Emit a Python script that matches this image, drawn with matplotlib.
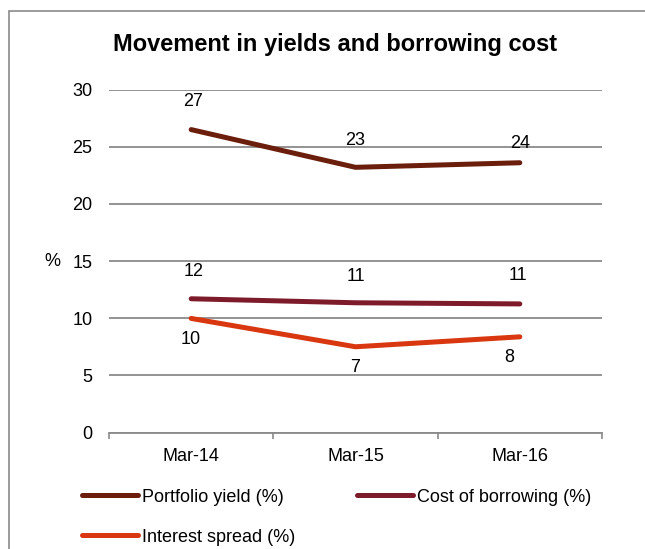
import matplotlib.pyplot as plt
from matplotlib.patches import Rectangle

plt.rcParams['font.family'] = ['Liberation Sans', 'DejaVu Sans']

# data
periods = ['Mar-14', 'Mar-15', 'Mar-16']
portfolio_yield = [26.5, 23.2, 23.6]
cost_of_borrowing = [11.7, 11.35, 11.25]
interest_spread = [9.98, 7.5, 8.37]
portfolio_labels = ['27', '23', '24']
borrowing_labels = ['12', '11', '11']
spread_labels = ['10', '7', '8']

c_yield = '#6B1E0C'
c_borrow = '#7E1B2B'
c_spread = '#D9370F'
grid_c = '#8A8A8A'

fig = plt.figure(figsize=(6.45, 5.49), dpi=100)
ax = fig.add_axes([0.169, 0.2122, 0.7643, 0.6246])

x = list(range(len(periods)))
series = [
    (portfolio_yield, portfolio_labels, c_yield, 'Portfolio yield (%)', [(2, 28), (0, 27), (0, 19)]),
    (cost_of_borrowing, borrowing_labels, c_borrow, 'Cost of borrowing (%)', [(2, 27), (0, 26), (-2, 28)]),
    (interest_spread, spread_labels, c_spread, 'Interest spread (%)', [(0, -21), (0, -21), (-11, -21)]),
]
handles = []
for vals, labs, col, name, offs in series:
    ln, = ax.plot(x, vals, color=col, lw=3.6, solid_capstyle='round', label=name, zorder=3)
    handles.append(ln)
    for xi, v, t, o in zip(x, vals, labs, offs):
        ax.annotate(t, (xi, v), xytext=o, textcoords='offset pixels',
                    ha='center', va='center', fontsize=13, color='black')

ax.set_xlim(-0.5, 2.5)
ax.set_ylim(0, 30)
ax.set_yticks(range(0, 31, 5))
ax.set_xticks(x)
ax.set_xticklabels(periods)
ax.set_xticks([-0.5, 0.5, 1.5, 2.5], minor=True)
ax.tick_params(axis='x', which='major', length=0, pad=11, labelsize=13)
ax.tick_params(axis='x', which='minor', length=4, width=1.2, color=grid_c, direction='out')
ax.tick_params(axis='y', length=0, pad=12, labelsize=13)
ax.grid(axis='y', color=grid_c, lw=1.3)
ax.set_axisbelow(True)
for s in ['left', 'top', 'right']:
    ax.spines[s].set_visible(False)
ax.spines['bottom'].set_color(grid_c)
ax.spines['bottom'].set_linewidth(1.3)

ax.set_ylabel('%', rotation=0, fontsize=13, ha='center', va='center')
ax.yaxis.set_label_coords(-0.115, 0.5)

fig.text(335 / 645, 1 - 45 / 549, 'Movement in yields and borrowing cost',
         ha='center', va='center', fontsize=17, fontweight='bold')

# legend entries placed like the original
legend_pos = [(82 / 645, 1 - 497 / 549), (357 / 645, 1 - 497 / 549), (82 / 645, 1 - 537 / 549)]
for h, pos in zip(handles, legend_pos):
    fig.legend(handles=[h], loc='center left', bbox_to_anchor=pos, frameon=False,
               fontsize=13, handlelength=3.1, handletextpad=0.2, borderpad=0, borderaxespad=0)

# outer chart frame (only left and top edges visible)
fig.add_artist(Rectangle((9 / 645, -0.1), 1.2, 1.1 - 11 / 549, transform=fig.transFigure,
                         fill=False, edgecolor=grid_c, lw=1.2, clip_on=False))

fig.savefig('out.png', dpi=100)
